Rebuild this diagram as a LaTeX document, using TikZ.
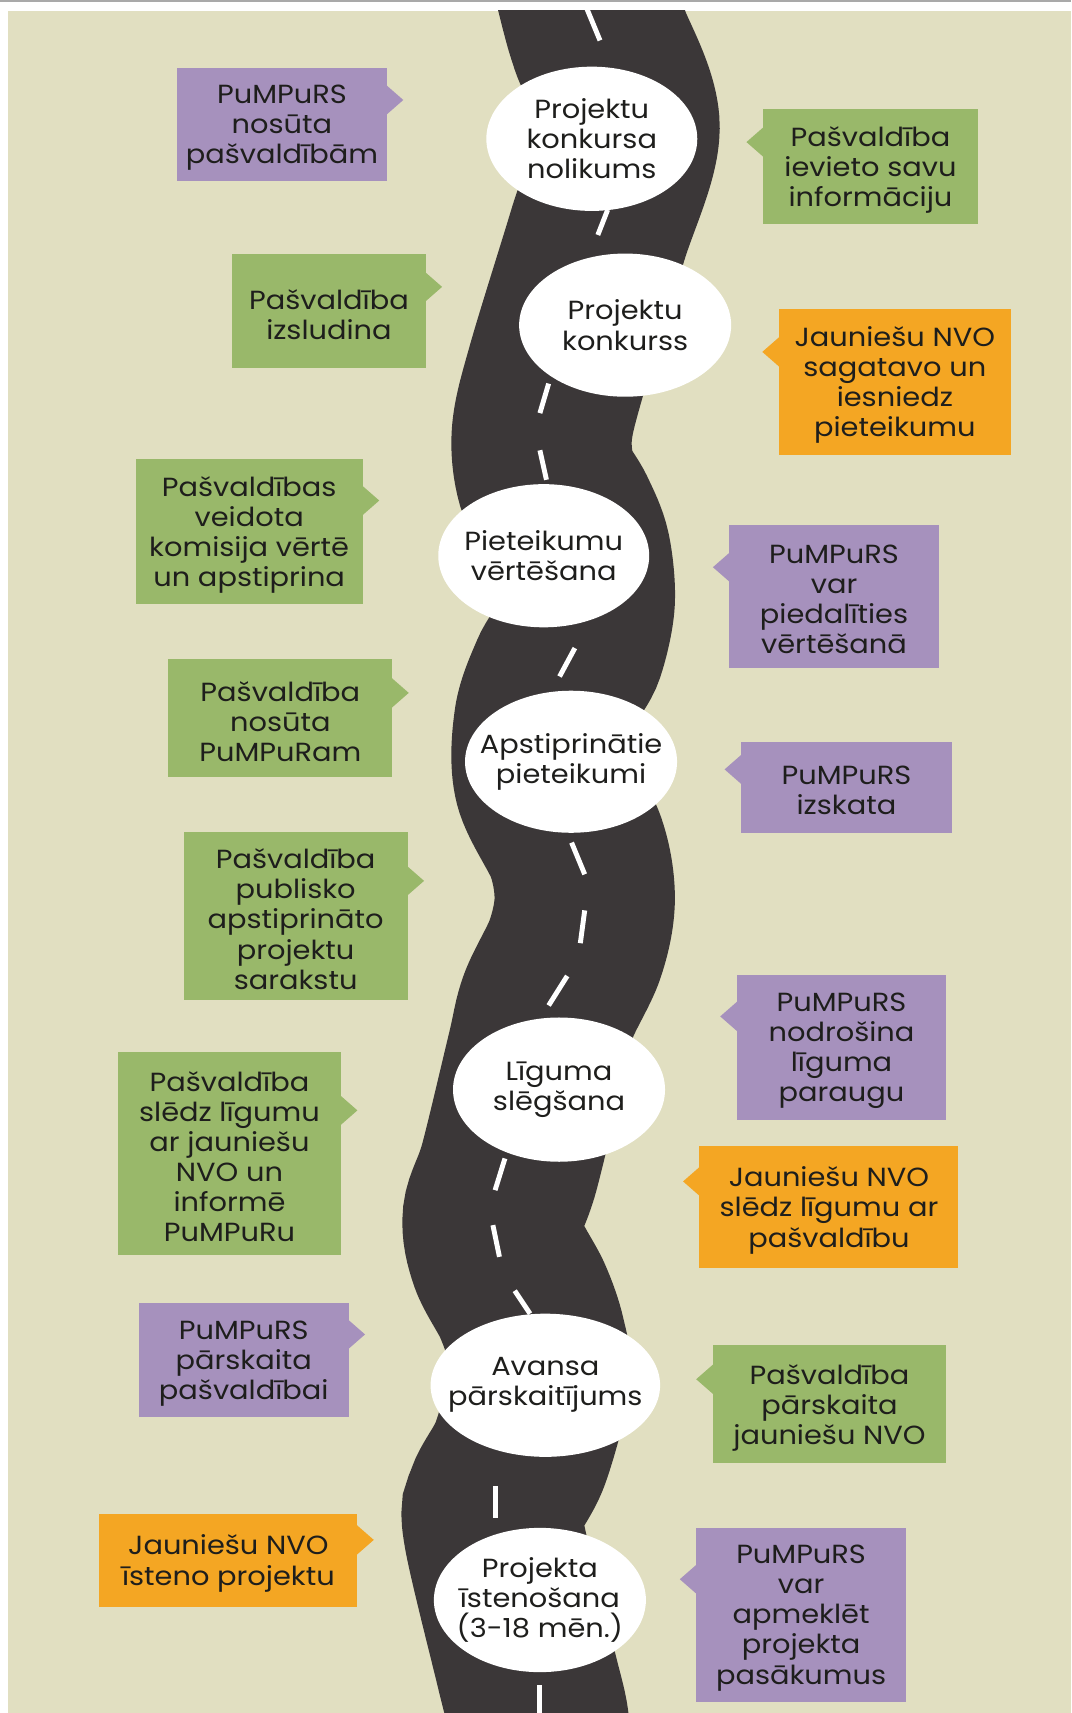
\documentclass[tikz,border=0pt]{standalone}
\usepackage{fontspec}
\setmainfont[FakeStretch=1.1]{Poppins}
\usetikzlibrary{shapes.geometric}
\definecolor{beige}{HTML}{E1DFC1}
\definecolor{roadc}{HTML}{3B3738}
\definecolor{purp}{HTML}{A691BD}
\definecolor{grn}{HTML}{99B86A}
\definecolor{orng}{HTML}{F4A623}
\definecolor{txt}{HTML}{1E1E1C}
\definecolor{topline}{HTML}{A9A9A9}
\tikzset{
  cbox/.style={rectangle, inner sep=0pt, align=center, text=txt,
    font=\fontsize{24}{27.5}\selectfont},
  ctext/.style={inner sep=0pt, align=center, text=txt,
    font=\fontsize{24}{27.5}\selectfont},
  stage/.style={ellipse, fill=white, inner sep=0pt},
  roadline/.style={draw=roadc, line width=165pt},
  laneline/.style={draw=white, line width=4.5pt},
}
% left callout: name, colour, x1, x2, y1, y2, tip y, text (pointer on right side)
\newcommand\lcall[8]{%
  \fill[#2] (#4-1,#7-14) -- (#4+15,#7) -- (#4-1,#7+14) -- cycle;
  \node[cbox,fill=#2,minimum width={(#4-#3)*1pt},minimum height={(#6-#5)*1pt}]
    (#1) at ({(#3+#4)/2},{(#5+#6)/2}) {};
  \node[ctext] (#1t) at ({(#3+#4)/2},{(#5+#6)/2+3}) {#8};
}
% right callout: pointer on left side
\newcommand\rcall[8]{%
  \fill[#2] (#3+1,#7-14) -- (#3-15,#7) -- (#3+1,#7+14) -- cycle;
  \node[cbox,fill=#2,minimum width={(#4-#3)*1pt},minimum height={(#6-#5)*1pt}]
    (#1) at ({(#3+#4)/2},{(#5+#6)/2}) {};
  \node[ctext] (#1t) at ({(#3+#4)/2},{(#5+#6)/2+3}) {#8};
}
% stage: name, x, y, width, height, text
\newcommand\stagenode[6]{%
  \node[stage,minimum width=#4pt,minimum height=#5pt] (#1) at (#2,#3) {};
  \node[ctext] (#1t) at (#1.center) {#6};
}
\begin{document}
\begin{tikzpicture}[x=1pt,y=-1pt]
\useasboundingbox (0,0) rectangle (980,1567.4);
\fill[white] (0,0) rectangle (980,1567.4);
\fill[topline] (0,0) rectangle (980,1.4);
\fill[beige] (7.3,10) rectangle (980,1567.4);
% road
\begin{scope}
\clip (7.3,10) rectangle (980,1567.4);
\draw[roadline] plot[smooth, tension=0.55] coordinates {
 (531,-30) (541,10) (549,37) (576,117) (547,215) (510,336) (496,395) (500,439)
 (518,472) (531,505) (535,550) (526,593) (512,619) (498,660) (498,715) (527,775)
 (535,823) (526,869) (502,920) (491,965) (466,1068) (451,1113) (457,1150)
 (478,1190) (490,1225) (494,1262) (476,1330) (454,1372) (452,1403) (481,1525)
 (492,1570) (495,1600)};
\draw[laneline] (537,8) -- (549,37);
\draw[laneline] (556,192) -- (547,215);
\draw[laneline] (502,351) -- (494,378);
\draw[laneline] (494,412) -- (500,439);
\draw[laneline] (526,593) -- (512,619);
\draw[laneline] (523,771) -- (535,800);
\draw[laneline] (535,833) -- (531,863);
\draw[laneline] (519,893) -- (502,920);
\draw[laneline] (462,1060) -- (453,1089);
\draw[laneline] (451,1121) -- (457,1150);
\draw[laneline] (471,1181) -- (485,1202);
\draw[laneline] (453,1360) -- (453,1389);
\draw[laneline] (494,1542) -- (494,1570);
\end{scope}
% stages
\stagenode{s1}{541.5}{127}{193}{132}{Projektu\\konkursa\\nolikums}
\stagenode{s2}{572}{297.5}{194}{131}{Projektu\\konkurss}
\stagenode{s3}{497.5}{508.5}{193}{131}{Pieteikumu\\vērtēšana}
\stagenode{s4}{522.5}{697}{194}{130}{Apstiprinātie\\pieteikumi}
\stagenode{s5}{511.5}{997}{194}{132}{Līguma\\slēgšana}
\stagenode{s6}{499}{1267.5}{210}{131}{Avansa\\pārskaitījums}
\stagenode{s7}{494}{1464}{194}{132}{Projekta\\īstenošana\\(3-18 mēn.)}
% left callouts
\lcall{l1}{purp}{162}{354}{62}{166}{91.5}{PuMPuRS\\nosūta\\pašvaldībām}
\lcall{l2}{grn}{212.5}{389.5}{232}{337}{262.5}{Pašvaldība\\izsludina}
\lcall{l3}{grn}{124}{332}{420}{553}{458}{Pašvaldības\\veidota\\komisija vērtē\\un apstiprina}
\lcall{l4}{grn}{154}{359}{603}{711}{634}{Pašvaldība\\nosūta\\PuMPuRam}
\lcall{l5}{grn}{168}{373}{761}{915}{806}{Pašvaldība\\publisko\\apstiprināto\\projektu\\sarakstu}
\lcall{l6}{grn}{108}{312}{963}{1148}{1016}{Pašvaldība\\slēdz līgumu\\ar jauniešu\\NVO un\\informē\\PuMPuRu}
\lcall{l7}{purp}{127}{319}{1192}{1297}{1221}{PuMPuRS\\pārskaita\\pašvaldībai}
\lcall{l8}{orng}{91}{327}{1385}{1470}{1409}{Jauniešu NVO\\īsteno projektu}
% right callouts
\rcall{r1}{grn}{698}{895}{100}{205}{130}{Pašvaldība\\ievieto savu\\informāciju}
\rcall{r2}{orng}{712.5}{925}{283}{416}{322}{Jauniešu NVO\\sagatavo un\\iesniedz\\pieteikumu}
\rcall{r3}{purp}{667.3}{859}{480.4}{611}{519}{PuMPuRS\\var\\piedalīties\\vērtēšanā}
\rcall{r4}{purp}{678}{871}{679}{762}{704}{PuMPuRS\\izskata}
\rcall{r5}{purp}{674}{866}{892}{1025}{930}{PuMPuRS\\nodrošina\\līguma\\paraugu}
\rcall{r6}{orng}{640}{877}{1049}{1160}{1081}{Jauniešu NVO\\slēdz līgumu ar\\pašvaldību}
\rcall{r7}{grn}{652}{866}{1231}{1339}{1262}{Pašvaldība\\pārskaita\\jauniešu NVO}
\rcall{r8}{purp}{637}{829}{1398}{1557}{1445}{PuMPuRS\\var\\apmeklēt\\projekta\\pasākumus}
\end{tikzpicture}
\end{document}
